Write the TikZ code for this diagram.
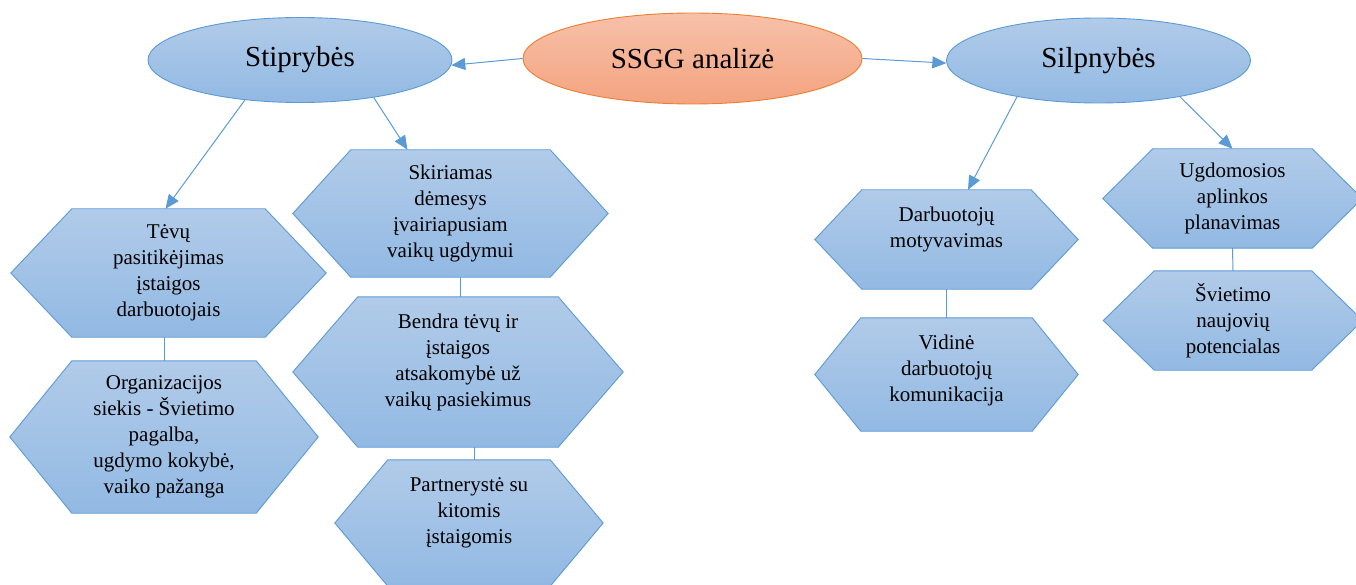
\documentclass[tikz,border=0pt]{standalone}
\usepackage{fontspec}
\setmainfont{Liberation Serif}
\usetikzlibrary{arrows.meta,shapes.geometric}
\definecolor{bluetop}{HTML}{B1CBE9}
\definecolor{bluebot}{HTML}{92B9E3}
\definecolor{blueline}{HTML}{5B9BD5}
\definecolor{orgtop}{HTML}{F7C1A9}
\definecolor{orgbot}{HTML}{F4A37F}
\definecolor{orgline}{HTML}{ED7D31}
\tikzset{
  ell/.style={ellipse, draw=blueline, line width=0.9pt, top color=bluetop, bottom color=bluebot,
    minimum width=304pt, minimum height=85pt, inner sep=0pt, font=\fontsize{29}{34}\selectfont},
  rootell/.style={ell, draw=orgline, top color=orgtop, bottom color=orgbot,
    minimum width=339pt, minimum height=91pt},
  hexbox/.style={rectangle, draw=none, inner sep=0pt},
  hexfill/.style={draw=blueline, line width=0.9pt, top color=bluetop, bottom color=bluebot},
  hextext/.style={align=center, inner sep=0pt, font=\fontsize{21}{26}\selectfont},
  conn/.style={draw=blueline, line width=1pt, -{Triangle[length=14pt,width=12pt]}},
  link/.style={draw=blueline, line width=1pt},
}
% name, cx, cy, width, height, inset
\newcommand\hexshape[6]{%
  \node[hexbox, minimum width=#4pt, minimum height=#5pt] (#1) at (#2,#3) {};
  \path[hexfill] (#1.west) -- ([xshift=#6pt]#1.north west) -- ([xshift=-#6pt]#1.north east)
    -- (#1.east) -- ([xshift=-#6pt]#1.south east) -- ([xshift=#6pt]#1.south west) -- cycle;
}
\begin{document}
\begin{tikzpicture}[x=1pt,y=-1pt]
\useasboundingbox (0,0) rectangle (1356,585);

% top ellipses
\node[ell] (stip) at (300,60) {Stiprybės};
\node[rootell] (ssgg) at (692.5,58.5) {SSGG analizė};
\node[ell] (silp) at (1098.5,60.5) {Silpnybės};

% hexagons
\hexshape{t1}{168.5}{273}{315}{128}{61}
\node[hextext] (t1t) at (t1.center) {Tėvų\\pasitikėjimas\\įstaigos\\darbuotojais};

\hexshape{o1}{164}{437}{308}{152}{62}
\node[hextext] (o1t) at (o1.center) {Organizacijos\\siekis - Švietimo\\pagalba,\\ugdymo kokybė,\\vaiko pažanga};

\hexshape{s1}{450.5}{213.5}{315}{127}{58}
\node[hextext] (s1t) at (s1.center) {Skiriamas\\dėmesys\\įvairiapusiam\\vaikų ugdymui};

\hexshape{b1}{458}{372}{330}{150}{65}
\node[hextext] (b1t) at ([yshift=10pt]b1.center) {Bendra tėvų ir\\įstaigos\\atsakomybė už\\vaikų pasiekimus};

\hexshape{p1}{469}{523}{268}{126}{53}
\node[hextext] (p1t) at ([yshift=10pt]p1.center) {Partnerystė su\\kitomis\\įstaigomis};

\hexshape{d1}{946.5}{239.5}{263}{99}{47}
\node[hextext] (d1t) at ([yshift=10pt]d1.center) {Darbuotojų\\motyvavimas};

\hexshape{v1}{946.5}{374.5}{263}{113}{46}
\node[hextext] (v1t) at ([yshift=4pt]v1.center) {Vidinė\\darbuotojų\\komunikacija};

\hexshape{u1}{1232.5}{198.5}{259}{99}{50}
\node[hextext] (u1t) at (u1.center) {Ugdomosios\\aplinkos\\planavimas};

\hexshape{sv1}{1233}{320.5}{259}{99}{51}
\node[hextext] (sv1t) at (sv1.center) {Švietimo\\naujovių\\potencialas};

% plain links
\draw[link] ([xshift=-4.5pt]t1.south) -- (o1.north);
\draw[link] ([xshift=9.5pt]s1.south) -- ([xshift=2pt]b1.north);
\draw[link] ([xshift=16pt]b1.south) -- ([xshift=5pt]p1.north);
\draw[link] (d1.south) -- (v1.north);
\draw[link] (u1.south) -- (sv1.north);

% arrows
\draw[conn] (ssgg.west) -- (stip.-2);
\draw[conn] (ssgg.east) -- (silp.181);
\draw[conn] (stip.216) -- ([xshift=-3pt]t1.north);
\draw[conn] (stip.-27) -- ([xshift=-43pt]s1.north);
\draw[conn] (silp.204) -- ([xshift=21.5pt]d1.north);
\draw[conn] (silp.-24) -- (u1.north);
\end{tikzpicture}
\end{document}
